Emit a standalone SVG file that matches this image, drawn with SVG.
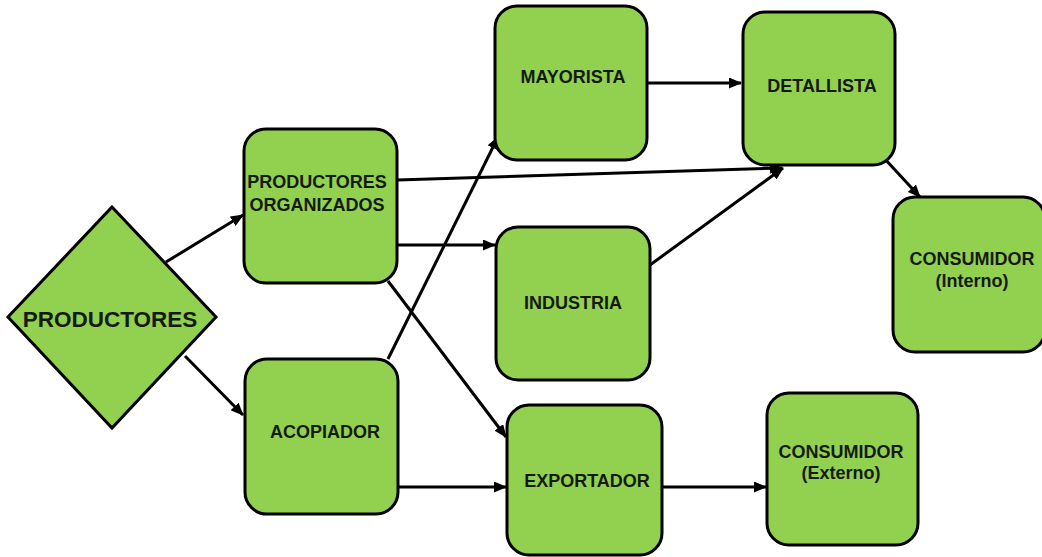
<svg xmlns="http://www.w3.org/2000/svg" width="1042" height="557" viewBox="0 0 1042 557">
<defs>
<marker id="ah" markerWidth="13" markerHeight="11" refX="12" refY="5.5" orient="auto" markerUnits="userSpaceOnUse">
<path d="M0,0 L13,5.5 L0,11 z" fill="#000"/>
</marker>
<style>
.box{fill:#92d050;stroke:#000;stroke-width:3}
.t{font-family:"Liberation Sans",Arial,sans-serif;font-weight:bold;font-size:18px;fill:#151a10;text-anchor:middle}
.big{font-size:22.5px}
.c{stroke:#000;stroke-width:3;fill:none;marker-end:url(#ah)}
</style>
</defs>
<rect width="1042" height="557" fill="#fff"/>
<g id="connectors">
<line class="c" x1="166" y1="262" x2="243" y2="215"/>
<line class="c" x1="185" y1="356" x2="243" y2="415"/>
<line class="c" x1="397" y1="180" x2="782" y2="168"/>
<line class="c" x1="397" y1="245" x2="495" y2="245"/>
<line class="c" x1="388" y1="281" x2="506" y2="437"/>
<line class="c" x1="388" y1="359" x2="498" y2="137"/>
<line class="c" x1="398" y1="487" x2="506" y2="487"/>
<line class="c" x1="647" y1="83" x2="741" y2="83"/>
<line class="c" x1="650" y1="265" x2="783" y2="168"/>
<line class="c" x1="884" y1="158" x2="920" y2="197"/>
<line class="c" x1="662" y1="487" x2="766" y2="487"/>
</g>
<g id="productores">
<polygon class="box" points="112,207 216,317 112,428 8,317"/>
<text class="t big" x="110" y="327">PRODUCTORES</text>
</g>
<g id="productores-organizados">
<rect class="box" x="244" y="129" width="153" height="154" rx="22"/>
<text class="t" x="317" y="188">PRODUCTORES</text>
<text class="t" x="317" y="211">ORGANIZADOS</text>
</g>
<g id="acopiador">
<rect class="box" x="245" y="359" width="153" height="155" rx="22"/>
<text class="t" x="325" y="438">ACOPIADOR</text>
</g>
<g id="mayorista">
<rect class="box" x="495" y="6" width="152" height="154" rx="22"/>
<text class="t" x="573" y="83">MAYORISTA</text>
</g>
<g id="industria">
<rect class="box" x="496" y="227" width="154" height="153" rx="22"/>
<text class="t" x="573" y="309">INDUSTRIA</text>
</g>
<g id="exportador">
<rect class="box" x="507" y="405" width="155" height="150" rx="22"/>
<text class="t" x="587" y="487">EXPORTADOR</text>
</g>
<g id="detallista">
<rect class="box" x="743" y="12" width="152" height="153" rx="22"/>
<text class="t" x="822" y="92">DETALLISTA</text>
</g>
<g id="consumidor-interno">
<rect class="box" x="893" y="197" width="152" height="155" rx="22"/>
<text class="t" x="972" y="265">CONSUMIDOR</text>
<text class="t" x="972" y="287">(Interno)</text>
</g>
<g id="consumidor-externo">
<rect class="box" x="767" y="393" width="151" height="152" rx="22"/>
<text class="t" x="841" y="458">CONSUMIDOR</text>
<text class="t" x="841" y="479">(Externo)</text>
</g>
</svg>
